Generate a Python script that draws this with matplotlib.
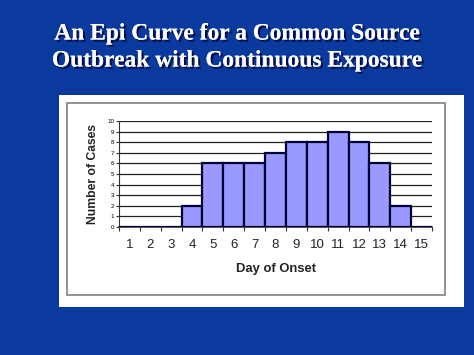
import matplotlib
matplotlib.use("Agg")
import matplotlib.pyplot as plt
import matplotlib.patheffects as pe
from matplotlib.patches import Rectangle
import numpy as np

days = list(range(1, 16))
cases = [0, 0, 0, 2, 6, 6, 6, 7, 8, 8, 9, 8, 6, 2, 0]
title_lines = ["An Epi Curve for a Common Source", "Outbreak with Continuous Exposure"]

bg = "#0b3a9e"
fig = plt.figure(figsize=(4.74, 3.55), dpi=100, facecolor=bg)

W, H = 474, 355
def fx(x): return x / W
def fy(y): return 1 - y / H

# white panel
fig.patches.append(Rectangle((fx(59), fy(307)), fx(464) - fx(59), fy(95) - fy(307),
                             transform=fig.transFigure, facecolor="white", edgecolor="none", zorder=0))
fig.patches.append(Rectangle((fx(67), fy(295)), fx(445) - fx(67), fy(103) - fy(295),
                             transform=fig.transFigure, facecolor="white", edgecolor="#808080", lw=1.2, zorder=0.5))

for i, (line, y) in enumerate(zip(title_lines, [34, 61])):
    fig.text(0.5, fy(y), line, ha="center", va="center", color="white",
             family="Liberation Serif", weight="bold", fontsize=16.9,
             path_effects=[pe.withSimplePatchShadow(offset=(1.5, -1.5), shadow_rgbFace="#000030", alpha=0.8), pe.Normal()])

ax = fig.add_axes([fx(119), fy(227), fx(432) - fx(119), fy(121) - fy(227)])
ax.set_zorder(2)
ax.set_facecolor("white")
x = np.arange(len(days))
ax.bar(x, cases, width=1.0, color="#9999ff", edgecolor="#000033", linewidth=1.6, zorder=3)
ax.set_xlim(-0.5, len(days) - 0.5)
ax.set_ylim(0, 10)
ax.set_yticks(range(0, 11))
ax.yaxis.grid(True, color="#222222", lw=0.9, zorder=0)
ax.set_axisbelow(True)
ax.set_xticks(np.arange(-0.5, len(days), 1.0))
ax.set_xticklabels([])
ax.set_xticks(x, minor=True)
ax.set_xticklabels([str(d) for d in days], minor=True, family="Liberation Sans", fontsize=9.5, color="#222222")
ax.tick_params(axis="x", which="minor", length=0, pad=9)
ax.tick_params(axis="x", which="major", length=3, direction="out", color="#333333")
ax.tick_params(axis="y", labelsize=4.5, length=2.5, pad=1, color="#333333")
for lbl in ax.get_yticklabels():
    lbl.set_family("Liberation Sans")
for s in ["top", "right"]:
    ax.spines[s].set_visible(False)
ax.spines["left"].set_color("#333333")
ax.spines["bottom"].set_color("#333333")
ax.spines["bottom"].set_linewidth(1.2)
ax.set_xlabel("Day of Onset", family="Liberation Sans", fontsize=9.4, weight="bold", labelpad=8, color="#222222")
ax.set_ylabel("Number of Cases", family="Liberation Sans", fontsize=8.7, weight="bold", labelpad=6, color="#222222")

fig.savefig("out.png", dpi=100, facecolor=bg)
